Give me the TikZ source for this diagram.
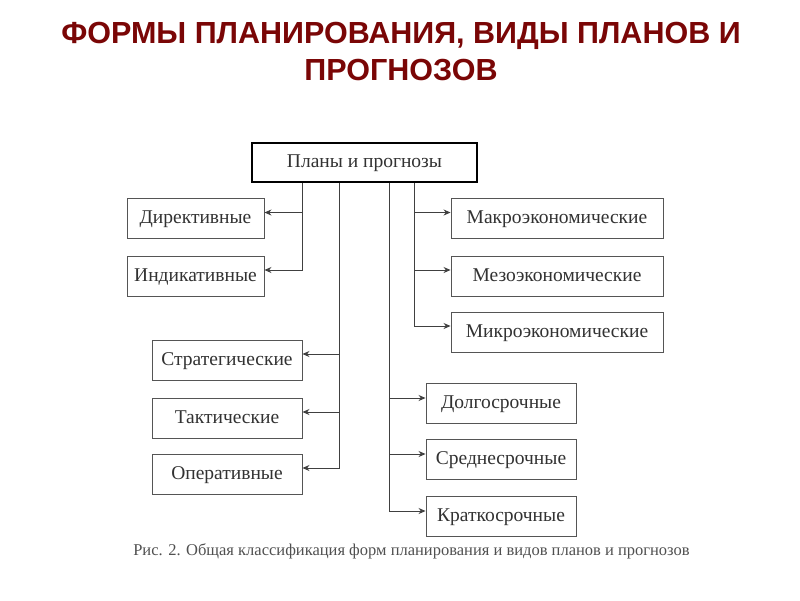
\documentclass[tikz,border=0pt]{standalone}
\usepackage{fontspec}
\setmainfont{Liberation Serif}
\newfontfamily\titlefont{Liberation Sans}
\usetikzlibrary{arrows.meta}
\definecolor{titlered}{RGB}{122,6,6}
\definecolor{boxline}{RGB}{85,85,85}
\definecolor{boxtext}{RGB}{50,50,50}
\definecolor{captext}{RGB}{80,80,80}
\tikzset{
  plainbox/.style={draw=boxline, line width=0.9pt, text=boxtext, inner sep=0pt,
    font=\fontsize{19.5}{22}\selectfont, minimum height=40pt, text depth=2pt},
  rootbox/.style={draw=black, line width=2pt, text=boxtext, inner sep=0pt,
    font=\fontsize{19.5}{22}\selectfont, minimum width=225pt, minimum height=39pt, text depth=2pt},
  conn/.style={draw=black!75, line width=0.9pt, -{Stealth[length=7pt,width=6pt]}},
}
\begin{document}
\begin{tikzpicture}[x=1pt,y=-1pt]
\useasboundingbox[fill=white] (0,0) rectangle (800,600);
\node[text=titlered, font=\titlefont\bfseries\fontsize{30.5}{37}\selectfont, align=center] (title) at (401,51.5)
  {ФОРМЫ ПЛАНИРОВАНИЯ, ВИДЫ ПЛАНОВ И\\ПРОГНОЗОВ};
\node[rootbox] (root) at (364.5,162.5) {Планы и прогнозы};
\node[plainbox, minimum width=137pt] (dir) at (195.5,218.5) {Директивные};
\node[plainbox, minimum width=137pt] (ind) at (195.5,276) {Индикативные};
\node[plainbox, minimum width=150pt] (str) at (227,360) {Стратегические};
\node[plainbox, minimum width=150pt] (tak) at (227,418) {Тактические};
\node[plainbox, minimum width=150pt] (ope) at (227,474) {Оперативные};
\node[plainbox, minimum width=212pt] (mak) at (557,218.5) {Макроэкономические};
\node[plainbox, minimum width=212pt] (mez) at (557,276) {Мезоэкономические};
\node[plainbox, minimum width=212pt] (mik) at (557,332) {Микроэкономические};
\node[plainbox, minimum width=150pt] (dol) at (501,403) {Долгосрочные};
\node[plainbox, minimum width=150pt] (sre) at (501,459) {Среднесрочные};
\node[plainbox, minimum width=150pt] (kra) at (501,516) {Краткосрочные};
\node[text=captext, font=\fontsize{16.5}{19}\selectfont] (cap) at (411.5,551)
  {Рис. 2. Общая классификация форм планирования и видов планов и прогнозов};
% trunk 1
\draw[conn] ([xshift=-62.5pt]root.south) |- ([yshift=6pt]dir.east);
\draw[conn] ([xshift=-62.5pt]root.south) |- ([yshift=6pt]ind.east);
% trunk 2
\draw[conn] ([xshift=-25.5pt]root.south) |- ([yshift=6pt]str.east);
\draw[conn] ([xshift=-25.5pt]root.south) |- ([yshift=6pt]tak.east);
\draw[conn] ([xshift=-25.5pt]root.south) |- ([yshift=6pt]ope.east);
% trunk 3
\draw[conn] ([xshift=24.5pt]root.south) |- ([yshift=5pt]dol.west);
\draw[conn] ([xshift=24.5pt]root.south) |- ([yshift=5pt]sre.west);
\draw[conn] ([xshift=24.5pt]root.south) |- ([yshift=5pt]kra.west);
% trunk 4
\draw[conn] ([xshift=49.5pt]root.south) |- ([yshift=6pt]mak.west);
\draw[conn] ([xshift=49.5pt]root.south) |- ([yshift=6pt]mez.west);
\draw[conn] ([xshift=49.5pt]root.south) |- ([yshift=6pt]mik.west);
\end{tikzpicture}
\end{document}
